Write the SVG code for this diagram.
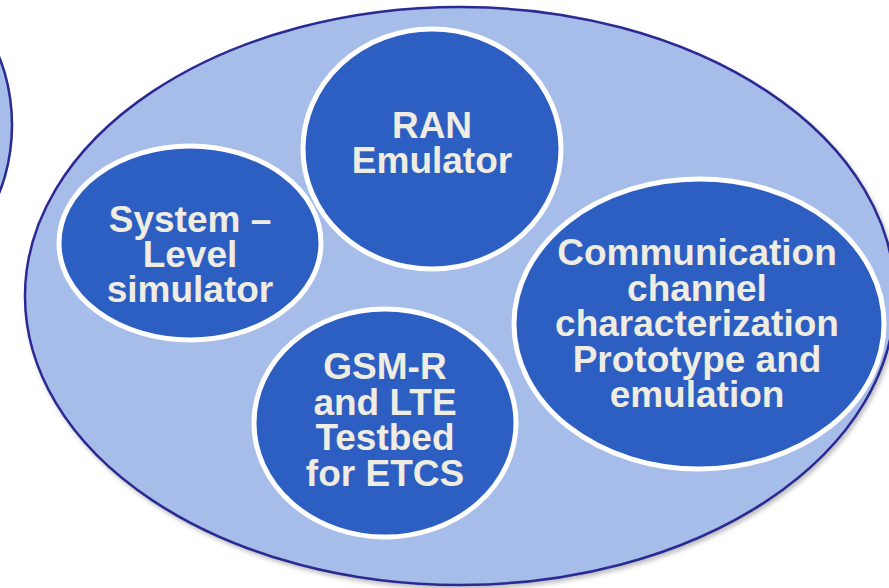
<svg xmlns="http://www.w3.org/2000/svg" width="889" height="588" viewBox="0 0 889 588">
<defs>
<filter id="sh" x="-5%" y="-5%" width="110%" height="112%">
<feDropShadow dx="2" dy="3" stdDeviation="2" flood-color="#000" flood-opacity="0.25"/>
</filter>
<style>
.outer{fill:#a7bde9;stroke:#2b2a92;stroke-width:2.5}
.node{fill:#2d5fc3;stroke:#ffffff;stroke-width:5}
.lbl{font-family:"Liberation Sans",Arial,sans-serif;font-weight:bold;font-size:37px;fill:#efece2;text-anchor:middle}
</style>
</defs>
<rect width="889" height="588" fill="#ffffff"/>
<g id="left-partial">
<ellipse class="outer" cx="-90" cy="125" rx="102" ry="140"/>
</g>
<g id="outer">
<ellipse class="outer" cx="460" cy="296" rx="435" ry="289" filter="url(#sh)"/>
</g>
<g id="connectors"></g>
<g id="ran">
<ellipse class="node" cx="432" cy="149" rx="129" ry="120"/>
<text class="lbl" x="432" y="138">RAN<tspan x="432" dy="35">Emulator</tspan></text>
</g>
<g id="system">
<ellipse class="node" cx="190" cy="243" rx="131" ry="97"/>
<text class="lbl" x="190" y="232">System –<tspan x="190" dy="35">Level</tspan><tspan x="190" dy="35">simulator</tspan></text>
</g>
<g id="gsmr">
<ellipse class="node" cx="385" cy="423" rx="131" ry="114"/>
<text class="lbl" x="385" y="379">GSM-R<tspan x="385" dy="35.5">and LTE</tspan><tspan x="385" dy="35.5">Testbed</tspan><tspan x="385" dy="35.5">for ETCS</tspan></text>
</g>
<g id="comm">
<ellipse class="node" cx="699" cy="324" rx="185" ry="145"/>
<text class="lbl" x="697" y="265">Communication<tspan x="697" dy="35.5">channel</tspan><tspan x="697" dy="35.5">characterization</tspan><tspan x="697" dy="35.5">Prototype and</tspan><tspan x="697" dy="35.5">emulation</tspan></text>
</g>
</svg>
